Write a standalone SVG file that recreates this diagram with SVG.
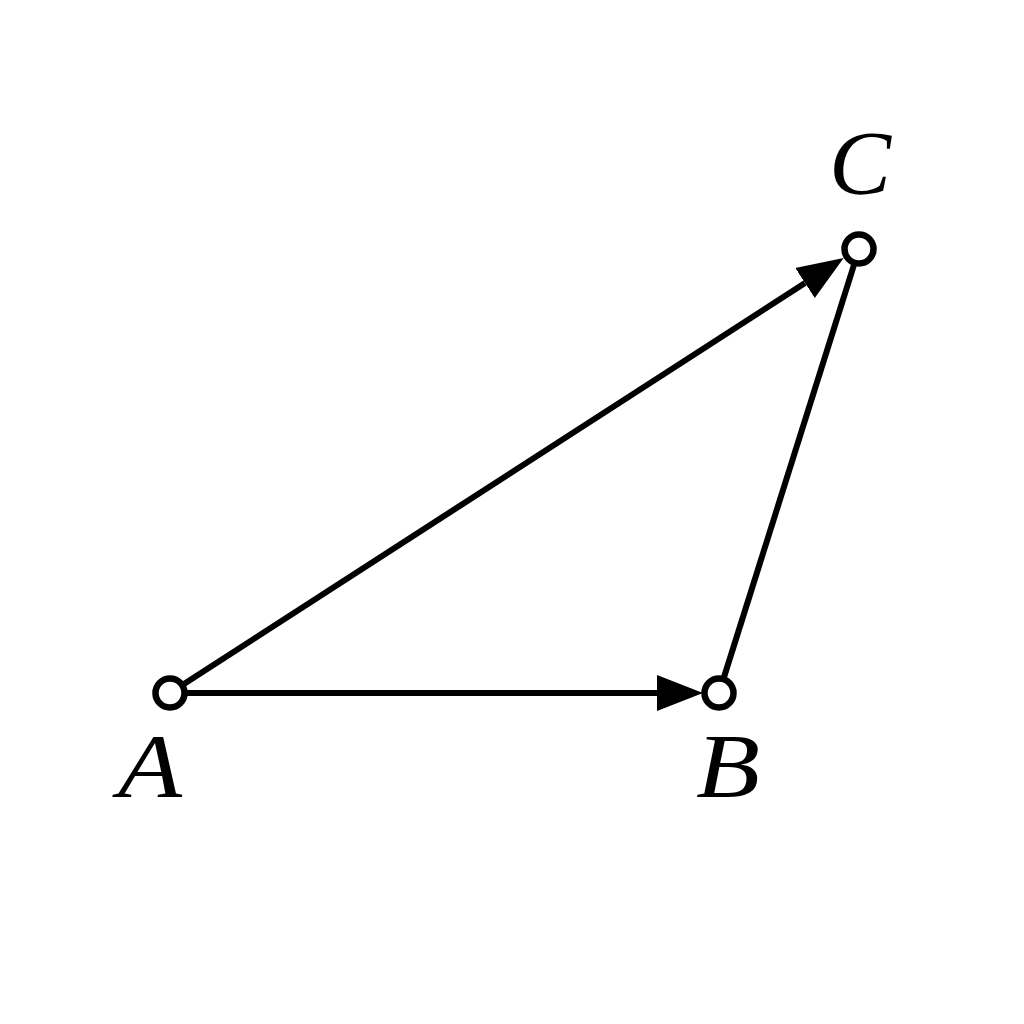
<svg xmlns="http://www.w3.org/2000/svg" width="1024" height="1024" viewBox="0 0 1024 1024">
<style>
.edge{stroke:#000;stroke-width:6;fill:none}
.pt{fill:#fff;stroke:#000;stroke-width:6.5}
.lbl{font-family:"Liberation Serif","DejaVu Serif",serif;font-style:italic;font-size:90px;fill:#000}
</style>
<defs>
<marker id="arr" markerUnits="userSpaceOnUse" markerWidth="50" markerHeight="40" refX="0" refY="18" orient="auto" viewBox="0 0 50 36">
<path d="M0,0 L46,18 L0,36 z" fill="#000"/>
</marker>
</defs>
<rect width="1024" height="1024" fill="#fff"/>
<g id="connectors">
<line class="edge" x1="170" y1="693" x2="657" y2="693" marker-end="url(#arr)"/>
<line class="edge" x1="170" y1="693" x2="805" y2="283" marker-end="url(#arr)"/>
<line class="edge" x1="719" y1="693" x2="859" y2="249"/>
</g>
<g id="A"><circle class="pt" cx="170" cy="693" r="14.5"/><text class="lbl" x="118" y="797" textLength="64" lengthAdjust="spacingAndGlyphs">A</text></g>
<g id="B"><circle class="pt" cx="719" cy="693" r="14.5"/><text class="lbl" x="696" y="797" textLength="64" lengthAdjust="spacingAndGlyphs">B</text></g>
<g id="C"><circle class="pt" cx="859" cy="249" r="14.5"/><text class="lbl" x="829" y="194" textLength="62" lengthAdjust="spacingAndGlyphs">C</text></g>
</svg>
